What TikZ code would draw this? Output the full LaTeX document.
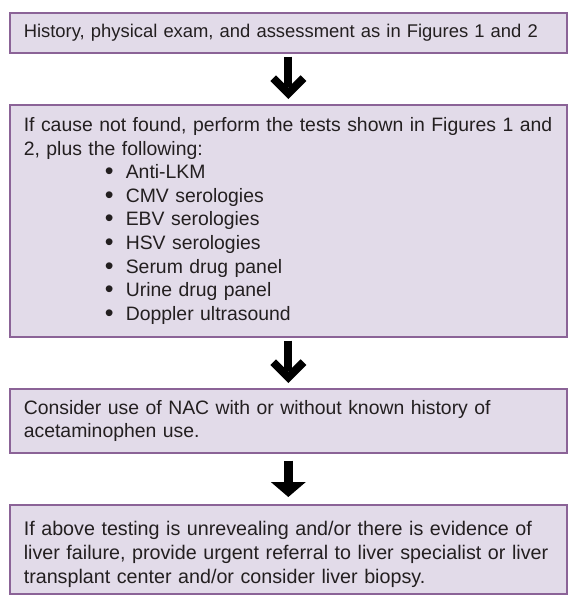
\documentclass[tikz,border=0pt]{standalone}
\usepackage{fontspec}
\setmainfont{Liberation Sans}
\definecolor{boxfill}{HTML}{E2DBE9}
\definecolor{boxline}{HTML}{8B6397}
\definecolor{txt}{HTML}{231F20}
\tikzset{
  box/.style={draw=boxline, fill=boxfill, line width=1.6pt, anchor=north west,
    minimum width=557pt, text width=529pt, inner xsep=14pt, inner ysep=0pt,
    align=left, font=\fontsize{19.4}{23.6}\selectfont, text=txt},
  shaft/.style={line width=8pt, draw=black},
  head/.style={fill=black},
}
\newcommand{\bul}[1]{\hspace*{81pt}\makebox[21pt][l]{\fontsize{25}{23.6}\selectfont\raisebox{-1pt}{\textbullet}}#1}
\begin{document}
\begin{tikzpicture}[x=1pt,y=-1pt]
\useasboundingbox (0,0) rectangle (575,600);
\node[box, minimum height=40pt, font=\fontsize{18.4}{23.6}\selectfont] (b1) at (9,12) {History, physical exam, and assessment as in Figures 1 and 2};
\node[box, minimum height=232pt] (b2) at (9,104) {If cause not found, perform the tests shown in Figures 1 and\\
2, plus the following:\\
\bul{Anti-LKM}\\
\bul{CMV serologies}\\
\bul{EBV serologies}\\
\bul{HSV serologies}\\
\bul{Serum drug panel}\\
\bul{Urine drug panel}\\
\bul{Doppler ultrasound}};
\node[box, minimum height=64pt] (b3) at (9,388) {Consider use of NAC with or without known history of\\
acetaminophen use.};
\node[box, minimum height=89pt, font=\fontsize{19.7}{24}\selectfont] (b4) at (9,504) {\rule{0pt}{24pt}If above testing is unrevealing and/or there is evidence of\\
liver failure, provide urgent referral to liver specialist or liver\\
transplant center and/or consider liver biopsy.};
% arrow 1
\coordinate (t1) at ([yshift=5pt]b2.north);
\draw[shaft] ([yshift=-3pt]b1.south) -- ([yshift=12pt]t1);
\fill[head] (t1) -- ++(-18,-18) -- ++(5.66,-5.66) -- ++(12.34,12.34) -- ++(12.34,-12.34) -- ++(5.66,5.66) -- cycle;
% arrow 2
\coordinate (t2) at ([yshift=5pt]b3.north);
\draw[shaft] ([yshift=-3pt]b2.south) -- ([yshift=12pt]t2);
\fill[head] (t2) -- ++(-18,-18) -- ++(5.66,-5.66) -- ++(12.34,12.34) -- ++(12.34,-12.34) -- ++(5.66,5.66) -- cycle;
% arrow 3
\coordinate (t3) at ([yshift=7pt]b4.north);
\draw[shaft, line width=9pt] ([yshift=-7pt]b3.south) -- ([yshift=14pt]t3);
\fill[head] (t3) -- ++(-17.5,-15) -- ++(35,0) -- cycle;
\end{tikzpicture}
\end{document}
